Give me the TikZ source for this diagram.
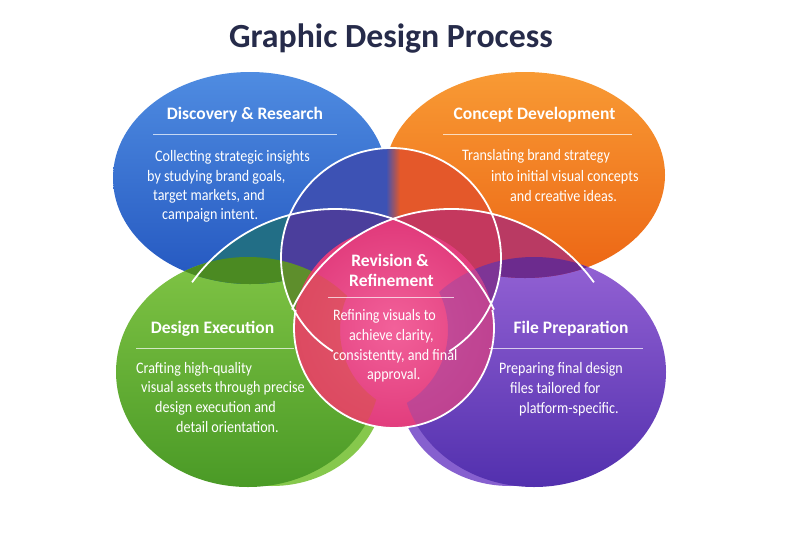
\documentclass[tikz,border=0pt]{standalone}
\usepackage{fontspec}
\setmainfont{Carlito}
\newfontfamily\bodyfont[FakeStretch=0.88]{Carlito}
\usetikzlibrary{shadings}
\definecolor{blueTop}{HTML}{4F8CE1}
\definecolor{blueBot}{HTML}{2457C0}
\definecolor{orangeTop}{HTML}{F89A34}
\definecolor{orangeBot}{HTML}{EC6514}
\definecolor{greenTop}{HTML}{80C445}
\definecolor{greenBot}{HTML}{4A9A26}
\definecolor{purpleTop}{HTML}{9462D4}
\definecolor{purpleBot}{HTML}{5230AE}
\definecolor{greenLight}{HTML}{86C84C}
\definecolor{purpleLight}{HTML}{8660CF}
\definecolor{teal}{HTML}{226E86}
\definecolor{olive}{HTML}{4B8A22}
\definecolor{crimson}{HTML}{B93A63}
\definecolor{dpurple}{HTML}{6C2B8E}
\definecolor{indigo}{HTML}{3D52B4}
\definecolor{redorange}{HTML}{E4582A}
\definecolor{brownish}{HTML}{B8602E}
\definecolor{pblue}{HTML}{4B3E9C}
\definecolor{crimsonb}{HTML}{C4385E}
\definecolor{oliveb}{HTML}{5E8E2C}
\definecolor{magb}{HTML}{7E3596}
\definecolor{pinkIn}{HTML}{F2619A}
\definecolor{pinkOut}{HTML}{E0397A}
\definecolor{coral}{HTML}{D9534F}
\definecolor{pmag}{HTML}{A8479F}
\definecolor{titlecol}{HTML}{262B4A}
\begin{document}
\begin{tikzpicture}[x=1pt,y=-1pt,
  pB/.style={insert path={(250,178) ellipse [x radius=137, y radius=106]}},
  pO/.style={insert path={(525,175) ellipse [x radius=140, y radius=103]}},
  pG/.style={insert path={(248,372) ellipse [x radius=132, y radius=115]}},
  pP/.style={insert path={(534,372) ellipse [x radius=132, y radius=115]}},
  pU/.style={insert path={(391,258) circle [radius=110]}},
  pL/.style={insert path={(335,385) circle [radius=176]}},
  pR/.style={insert path={(451,385) circle [radius=176]}},
  pK/.style={insert path={(394,328) circle [radius=100]}},
  wline/.style={draw=white, line width=1.8pt},
  sepline/.style={draw=white, opacity=0.7, line width=0.8pt},
  titletext/.style={font=\fontsize{33.8}{40}\selectfont\bfseries, text=titlecol},
  headtext/.style={font=\fontsize{17.5}{21}\selectfont\bfseries, text=white},
  bodytext/.style={font=\bodyfont\fontsize{16}{19}\selectfont, text=white, anchor=west, inner sep=0pt}
]
\fill[white] (0,0) rectangle (800,533);
\useasboundingbox (0,0) rectangle (800,533);

% lighter crescents behind
\fill[greenLight] (272,386) ellipse [x radius=112, y radius=100];
\fill[purpleLight] (510,386) ellipse [x radius=112, y radius=100];

% big ellipses
\shade[top color=blueTop, bottom color=blueBot, pB];
\shade[top color=orangeTop, bottom color=orangeBot, pO];
\shade[top color=greenTop, bottom color=greenBot, pG];
\shade[top color=purpleTop, bottom color=purpleBot, pP];

% tints from lower arcs
\begin{scope}\clip[pL]; \fill[teal, pB]; \end{scope}
\begin{scope}\clip[pR]; \fill[crimson, pO]; \end{scope}
\begin{scope}\clip[pG]; \fill[olive, pB]; \end{scope}
\begin{scope}\clip[pP]; \fill[dpurple, pO]; \end{scope}

% upper circle tints
\begin{scope}
  \clip[pU];
  \fill[indigo] (0,0) rectangle (387,533);
  \fill[redorange] (399,0) rectangle (800,533);
  \shade[left color=indigo, middle color=brownish, right color=redorange] (386,0) rectangle (400,533);
  \begin{scope}\clip[pL]; \fill[pblue] (0,0) rectangle (800,533); \end{scope}
  \begin{scope}\clip[pR]; \fill[crimsonb] (0,0) rectangle (800,533); \end{scope}
  \fill[oliveb, pG];
  \fill[magb, pP];
\end{scope}

% central pink region
\begin{scope}
  \clip[pK];
  \shade[inner color=pinkIn, outer color=pinkOut] (284,218) rectangle (504,438);
\end{scope}
\begin{scope}
  \clip[pL]; \clip[pR]; \clip (0,0) rectangle (800,300);
  \shade[inner color=pinkIn, outer color=pinkOut] (284,218) rectangle (504,438);
\end{scope}
\begin{scope}
  \clip[pK];
  \begin{scope}[even odd rule]
    \clip (0,0) rectangle (800,533) (425,330) circle [radius=85];
    \fill[coral, opacity=0.6, pG];
  \end{scope}
\end{scope}
\begin{scope}
  \clip[pK];
  \begin{scope}[even odd rule]
    \clip (0,0) rectangle (800,533) (363,330) circle [radius=85];
    \fill[pmag, opacity=0.6, pP];
  \end{scope}
\end{scope}

% white outlines
\draw[wline] (391,258) ++(122:110) arc[start angle=122, end angle=418, radius=110];
\draw[wline] (335,385) ++(215.7:176) arc[start angle=215.7, end angle=334.6, radius=176];
\draw[wline] (451,385) ++(205.4:176) arc[start angle=205.4, end angle=324.3, radius=176];
\draw[wline] (394,328) ++(-10.4:100) arc[start angle=-10.4, end angle=190.4, radius=100];

% title
\node[titletext, anchor=base] (title) at (391,47) {Graphic Design Process};

% Discovery & Research
\node[headtext] (h1) at (245,115) {Discovery \& Research};
\coordinate (s1a) at (153,134); \coordinate (s1b) at (337,134);
\draw[sepline] (s1a) -- (s1b);
\node[bodytext] (d1) at (155,157) {Collecting strategic insights};
\node[bodytext] (d2) at (147,177) {by studying brand goals,};
\node[bodytext] (d3) at (153,196) {target markets, and};
\node[bodytext] (d4) at (162,215) {campaign intent.};

% Concept Development
\node[headtext] (h2) at (534.5,115) {Concept Development};
\coordinate (s2a) at (443,134); \coordinate (s2b) at (632,134);
\draw[sepline] (s2a) -- (s2b);
\node[bodytext] (c1) at (462,156) {Translating brand strategy};
\node[bodytext] (c2) at (491,177) {into initial visual concepts};
\node[bodytext] (c3) at (510,196) {and creative ideas.};

% Design Execution
\node[headtext] (h3) at (212.5,329) {Design Execution};
\coordinate (s3a) at (136,348); \coordinate (s3b) at (294,348);
\draw[sepline] (s3a) -- (s3b);
\node[bodytext] (e1) at (136,369) {Crafting high-quality};
\node[bodytext] (e2) at (141,388) {visual assets through precise};
\node[bodytext] (e3) at (155,408) {design execution and};
\node[bodytext] (e4) at (176,427) {detail orientation.};

% File Preparation
\node[headtext] (h4) at (571,329) {File Preparation};
\coordinate (s4a) at (489,348); \coordinate (s4b) at (643,348);
\draw[sepline] (s4a) -- (s4b);
\node[bodytext] (f1) at (499,369) {Preparing final design};
\node[bodytext] (f2) at (510,388) {files tailored for};
\node[bodytext] (f3) at (519,409) {platform-specific.};

% Revision & Refinement
\node[headtext] (h5a) at (390,260) {Revision \&};
\node[headtext] (h5b) at (391.5,280) {Refinement};
\coordinate (s5a) at (328,297); \coordinate (s5b) at (454,297);
\draw[sepline] (s5a) -- (s5b);
\node[bodytext] (r1) at (333,316) {Refining visuals to};
\node[bodytext] (r2) at (349,336) {achieve clarity,};
\node[bodytext] (r3) at (333,356) {consistentty, and final};
\node[bodytext] (r4) at (367,375) {approval.};
\end{tikzpicture}
\end{document}
